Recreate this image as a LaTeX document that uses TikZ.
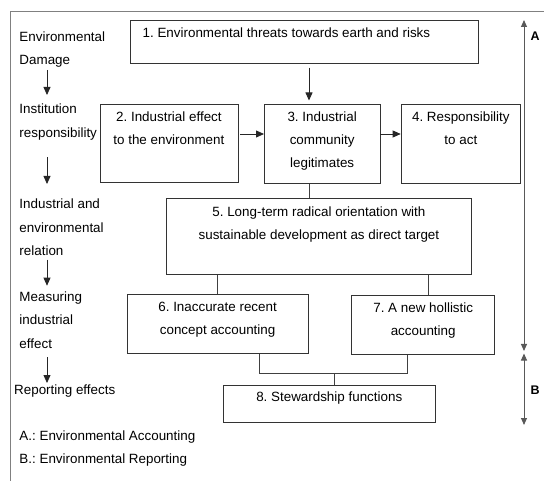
\documentclass[tikz,border=0pt]{standalone}
\usepackage{fontspec}
\setmainfont{Liberation Sans}
\usetikzlibrary{positioning,arrows.meta}
\frenchspacing

\begin{document}
\begin{tikzpicture}[x=1pt,y=-1pt,
    box/.style={draw=black!80,line width=0.8pt,anchor=north west,inner sep=0pt},
    txt/.style={align=center,inner sep=0pt,font=\fontsize{13.4}{23}\selectfont},
    side/.style={align=left,inner sep=0pt,anchor=north west,font=\fontsize{13.4}{23.2}\selectfont},
    tag/.style={inner sep=0pt,anchor=north west,font=\fontsize{12.5}{14}\selectfont\bfseries},
    arr/.style={-{Triangle[length=8pt,width=7pt]},line width=0.8pt,black!85},
    link/.style={line width=0.8pt,black!75},
    span/.style={{Triangle[length=7pt,width=6pt]}-{Triangle[length=7pt,width=6pt]},line width=1pt,black!65}]
    \useasboundingbox (0,0) rectangle (544,481);
    \draw[gray,line width=1pt] (10,481) -- (10,12) -- (544,12);
    \node[box,minimum width=348pt,minimum height=43pt] (b1) at (130,20.5) {};
    \node[box,minimum width=138pt,minimum height=78pt] (b2) at (99.5,104.5) {};
    \node[box,minimum width=115.5pt,minimum height=79pt] (b3) at (264,104.5) {};
    \node[box,minimum width=119.5pt,minimum height=79pt] (b4) at (400.7,104.5) {};
    \node[box,minimum width=305pt,minimum height=76pt] (b5) at (166,198.3) {};
    \node[box,minimum width=181pt,minimum height=59pt] (b6) at (126.7,294.3) {};
    \node[box,minimum width=143pt,minimum height=59pt] (b7) at (351.3,295.3) {};
    \node[box,minimum width=212.3pt,minimum height=37pt] (b8) at (222.7,384.7) {};
    \node[txt,below=7.5pt of b1.north,xshift=-18pt] (t1) {1. Environmental threats towards earth and risks};
    \node[txt,below=7.5pt of b2.north] (t2) {2. Industrial effect\\to the environment};
    \node[txt,below=7pt of b3.north] (t3) {3. Industrial\\community\\legitimates};
    \node[txt,below=7pt of b4.north] (t4) {4. Responsibility\\to act};
    \node[txt,below=8pt of b5.north] (t5) {5. Long-term radical orientation with\\sustainable development as direct target};
    \node[txt,below=7.5pt of b6.north] (t6) {6. Inaccurate recent\\concept accounting};
    \node[txt,below=7.5pt of b7.north] (t7) {7. A new hollistic\\accounting};
    \node[txt,below=7pt of b8.north] (t8) {8. Stewardship functions};
    \node[side] (g1) at (19.3,31.7) {Environmental\\Damage};
    \node[side] (g2) at (19.3,104) {Institution\\responsibility};
    \node[side] (g3) at (19.3,199) {Industrial and\\environmental\\relation};
    \node[side] (g4) at (19.3,291.7) {Measuring\\industrial\\effect};
    \node[side] (g5) at (14,385) {Reporting effects};
    \node[side,font=\fontsize{13.4}{22.3}\selectfont] (key) at (19.3,431) {A.: Environmental Accounting\\B.: Environmental Reporting};
    \coordinate (ax) at (47,0);
    \draw[arr] ([yshift=-2pt]g1.south -| ax) -- ([yshift=9pt]g2.north -| ax);
    \draw[arr] ([yshift=-17pt]g2.south -| ax) -- ([yshift=15pt]g3.north -| ax);
    \draw[arr] ([yshift=-4pt]g3.south -| ax) -- ([yshift=6pt]g4.north -| ax);
    \draw[arr] ([yshift=-8.7pt]g4.south -| ax) -- ([yshift=2pt]g5.north -| ax);
    \coordinate (cx) at (309,0);
    \coordinate (ay) at (0,134);
    \draw[arr] ([yshift=-3.4pt]b1.south -| cx) -- ([yshift=4pt]b3.north -| cx);
    \draw[arr] ([xshift=2pt]b2.east |- ay) -- (b3.west |- ay);
    \draw[arr] (b3.east |- ay) -- (b4.west |- ay);
    \draw[link] (b3.south -| cx) -- (b5.north -| cx);
    \draw[link] (b5.south -| b6.north) -- (b6.north);
    \coordinate (c7) at (428.3,0);
    \draw[link] (b5.south -| c7) -- (b7.north -| c7);
    \coordinate (c6) at (259,0);
    \coordinate (c7b) at (407.3,0);
    \coordinate (c8) at (334,0);
    \coordinate (jy) at (0,373.3);
    \draw[link] (b6.south -| c6) -- (c6 |- jy) -- (c7b |- jy) -- (b7.south -| c7b);
    \draw[link] (c8 |- jy) -- (b8.north -| c8);
    \coordinate (atop) at (524,20);
    \coordinate (abot) at (524,351);
    \coordinate (btop) at (524,353.5);
    \coordinate (bbot) at (524,425);
    \draw[span] (abot) -- (atop);
    \draw[span] (btop) -- (bbot);
    \node[tag] (la) at (530.3,32) {A};
    \node[tag] (lb) at (530.3,385.7) {B};
\end{tikzpicture}
\end{document}
